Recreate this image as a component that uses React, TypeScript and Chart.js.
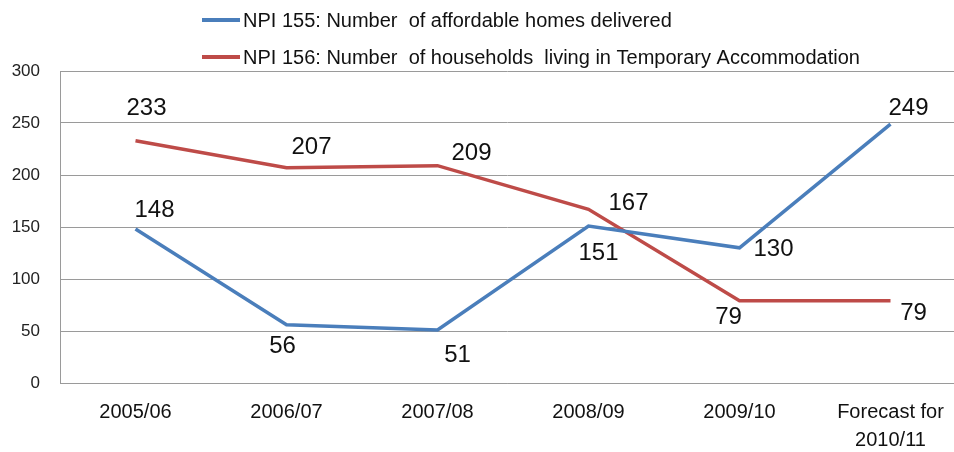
import React, { useEffect, useRef } from "react";
import { Chart, registerables } from "chart.js";

Chart.register(...registerables);

// ---- data ----
const categories: (string | string[])[] = [
  "2005/06",
  "2006/07",
  "2007/08",
  "2008/09",
  "2009/10",
  ["Forecast for", "2010/11"],
];
const npi155Label = "NPI 155: Number  of affordable homes delivered";
const npi156Label = "NPI 156: Number  of households  living in Temporary Accommodation";
const npi155 = [148, 56, 51, 151, 130, 249];
const npi156 = [233, 207, 209, 167, 79, 79];
const yMin = 0;
const yMax = 300;
const yStep = 50;

// ---- styles ----
const BLUE = "#4A7EBB";
const RED = "#BE4B48";
const FONT = "'Liberation Sans', Arial, sans-serif";
const GRID = "#9a9a9a";
// label offsets (px) relative to each point
const npi155LabelOffsets = [[19, -19], [-4, 22], [20, 25], [10, 27], [34, 2], [18, -16]];
const npi156LabelOffsets = [[11, -32], [25, -20], [34, -12], [40, -6], [-11, 17], [23, 13]];

const dataLabelPlugin = {
  id: "dataLabels",
  afterDatasetsDraw(chart: any) {
    const ctx = chart.ctx;
    ctx.save();
    ctx.font = `24px ${FONT}`;
    ctx.fillStyle = "#111";
    ctx.textAlign = "center";
    ctx.textBaseline = "middle";
    chart.data.datasets.forEach((ds: any, di: number) => {
      const meta = chart.getDatasetMeta(di);
      const offs = ds.labelOffsets;
      meta.data.forEach((el: any, i: number) => {
        const v = ds.data[i].y;
        const [dx, dy] = offs[i];
        ctx.fillText(String(v), el.x + dx, el.y + dy);
      });
    });
    ctx.restore();
  },
};

const legendPlugin = {
  id: "customLegend",
  afterDraw(chart: any) {
    const ctx = chart.ctx;
    ctx.save();
    ctx.font = `20px ${FONT}`;
    ctx.textBaseline = "middle";
    ctx.textAlign = "left";
    const rows = [20, 57];
    chart.data.datasets.forEach((ds: any, i: number) => {
      const y = rows[i];
      ctx.strokeStyle = ds.borderColor;
      ctx.lineWidth = 4;
      ctx.beginPath();
      ctx.moveTo(202, y);
      ctx.lineTo(240, y);
      ctx.stroke();
      ctx.fillStyle = "#111";
      ctx.fillText(ds.label, 243, y + 1);
    });
    ctx.restore();
  },
};

export default function App() {
  const ref = useRef<HTMLCanvasElement>(null);
  useEffect(() => {
    if (!ref.current) return;
    const toPts = (arr: number[]) => arr.map((v, i) => ({ x: i, y: v }));
    const chart = new Chart(ref.current, {
      type: "line",
      data: {
        datasets: [
          {
            label: npi155Label,
            data: toPts(npi155),
            borderColor: BLUE,
            backgroundColor: BLUE,
            borderWidth: 3.5,
            pointRadius: 0,
            tension: 0,
            labelOffsets: npi155LabelOffsets,
          } as any,
          {
            label: npi156Label,
            data: toPts(npi156),
            borderColor: RED,
            backgroundColor: RED,
            borderWidth: 3.5,
            pointRadius: 0,
            tension: 0,
            labelOffsets: npi156LabelOffsets,
          } as any,
        ],
      },
      options: {
        responsive: false,
        animation: false,
        layout: { padding: { top: 71, left: 0, right: 0, bottom: 0 } },
        plugins: {
          legend: { display: false },
          tooltip: { enabled: false },
        },
        scales: {
          x: {
            type: "linear",
            min: -0.5,
            max: -0.5 + 894 / 151,
            afterBuildTicks: (scale: any) => {
              scale.ticks = categories.map((_, i) => ({ value: i }));
            },
            afterFit: (scale: any) => {
              scale.height = 69;
              scale.paddingLeft = 0;
              scale.paddingRight = 0;
            },
            grid: { display: false, drawTicks: false },
            border: { display: true, color: GRID, width: 1 },
            ticks: {
              padding: 15,
              color: "#111",
              font: { family: FONT, size: 20, lineHeight: 1.4 },
              maxRotation: 0,
              autoSkip: false,
              callback: (v: any) => categories[Math.round(Number(v))] as any,
            },
          },
          y: {
            min: yMin,
            max: yMax,
            afterFit: (scale: any) => {
              scale.width = 60;
              scale.paddingTop = 0;
              scale.paddingBottom = 0;
            },
            grid: { color: GRID, drawTicks: false, lineWidth: 1 },
            border: { display: true, color: GRID, width: 1 },
            ticks: {
              stepSize: yStep,
              padding: 20,
              color: "#222",
              font: { family: FONT, size: 17 },
            },
          },
        },
      },
      plugins: [dataLabelPlugin, legendPlugin],
    });
    return () => chart.destroy();
  }, []);
  return (
    <div style={{ position: "absolute", left: 0, top: 0, width: 954, height: 452, background: "#fff" }}>
      <canvas ref={ref} width={954} height={452} style={{ display: "block" }} />
    </div>
  );
}
